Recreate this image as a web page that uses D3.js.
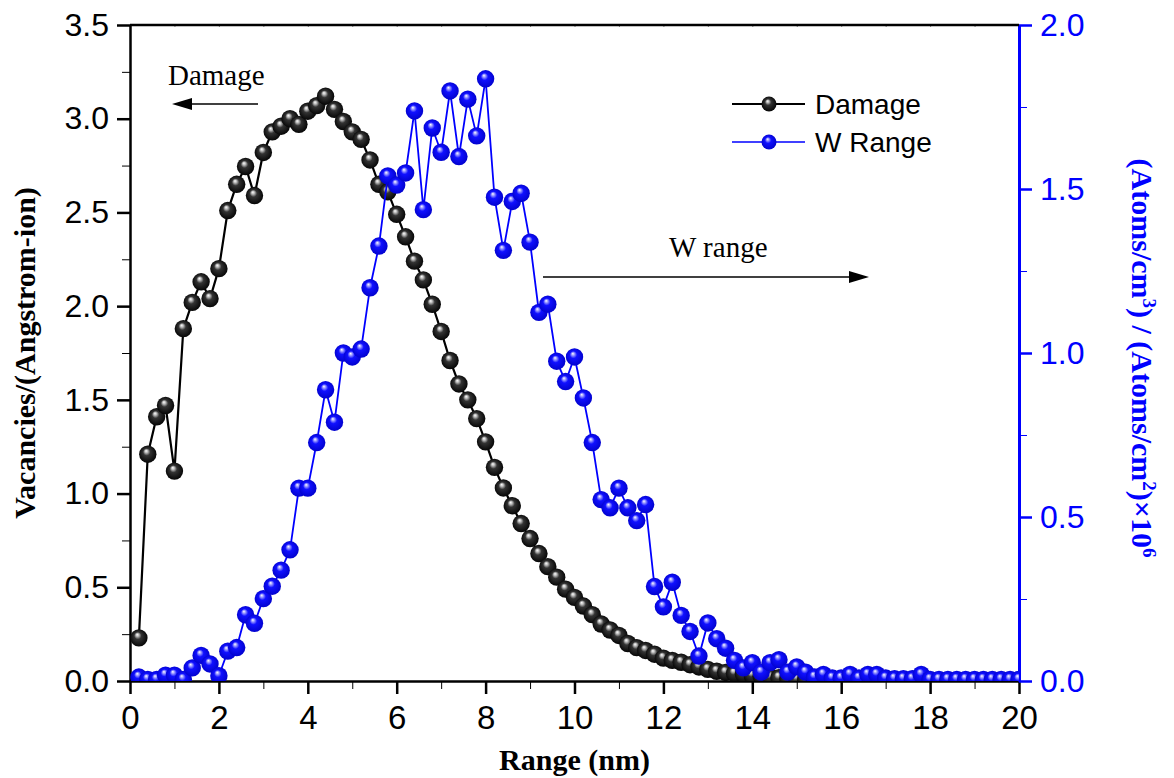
<!DOCTYPE html>
<html>
<head>
<meta charset="utf-8">
<script src="https://cdn.jsdelivr.net/npm/d3@7"></script>
<style>
  body { margin: 0; background: #fff; }
  svg text { font-family: "Liberation Sans", Arial, sans-serif; }
</style>
</head>
<body>
<div id="chart"></div>
<script>
// depth grid (nm)
const rangeNm = [0.2,0.4,0.6,0.8,1.0,1.2,1.4,1.6,1.8,2.0,2.2,2.4,2.6,2.8,3.0,3.2,3.4,3.6,3.8,4.0,
  4.2,4.4,4.6,4.8,5.0,5.2,5.4,5.6,5.8,6.0,6.2,6.4,6.6,6.8,7.0,7.2,7.4,7.6,7.8,8.0,
  8.2,8.4,8.6,8.8,9.0,9.2,9.4,9.6,9.8,10.0,10.2,10.4,10.6,10.8,11.0,11.2,11.4,11.6,11.8,12.0,
  12.2,12.4,12.6,12.8,13.0,13.2,13.4,13.6,13.8,14.0,14.2,14.4,14.6,14.8,15.0,15.2,15.4,15.6,15.8,16.0,
  16.2,16.4,16.6,16.8,17.0,17.2,17.4,17.6,17.8,18.0,18.2,18.4,18.6,18.8,19.0,19.2,19.4,19.6,19.8,20.0];

// vacancies / (Angstrom-ion), left axis
const damage = [0.23,1.21,1.41,1.47,1.12,1.88,2.02,2.13,2.04,2.20,2.51,2.65,2.745,2.59,2.82,2.93,2.96,3.00,2.97,3.04,
  3.07,3.12,3.05,2.985,2.93,2.89,2.78,2.65,2.61,2.49,2.37,2.24,2.14,2.01,1.865,1.71,1.585,1.50,1.40,1.276,
  1.14,1.03,0.935,0.84,0.76,0.68,0.61,0.554,0.49,0.446,0.40,0.354,0.304,0.272,0.243,0.20,0.178,0.163,0.143,0.122,
  0.11,0.10,0.087,0.075,0.062,0.052,0.046,0.041,0.037,0.03,0.026,0.022,0.018,0.014,0.011,0.009,0.007,0.006,0.005,0.004,
  0.003,0.003,0.002,0.002,0.002,0.001,0.001,0.001,0.001,0.001,0,0,0,0,0,0,0,0,0,0];

// W concentration, right axis
const wRange = [0.012,0.005,0.005,0.018,0.018,0.005,0.04,0.078,0.052,0.016,0.091,0.102,0.202,0.176,0.251,0.289,0.338,0.40,0.588,0.588,
  0.727,0.888,0.789,1.0,0.988,1.012,1.199,1.326,1.54,1.512,1.549,1.738,1.437,1.686,1.612,1.799,1.599,1.774,1.662,1.836,
  1.475,1.313,1.462,1.487,1.338,1.124,1.149,0.975,0.913,0.988,0.863,0.727,0.553,0.528,0.588,0.528,0.489,0.538,0.288,0.226,
  0.301,0.20,0.151,0.076,0.177,0.129,0.10,0.063,0.04,0.056,0.027,0.056,0.065,0.027,0.043,0.027,0.012,0.02,0.009,0.009,
  0.02,0.009,0.02,0.02,0.009,0.007,0.007,0.007,0.02,0.005,0.005,0.005,0.005,0.005,0.005,0.005,0.005,0.005,0.005,0.005];

const xTicks = [0,2,4,6,8,10,12,14,16,18,20];
const leftTicks = [0,0.5,1.0,1.5,2.0,2.5,3.0,3.5];
const rightTicks = [0,0.5,1.0,1.5,2.0];
const seriesNames = ["Damage", "W Range"];

const W = 1174, H = 778;
const margin = {top: 25, right: 155, bottom: 97, left: 130};
const iw = W - margin.left - margin.right,
      ih = H - margin.top - margin.bottom;

const svg = d3.select("#chart").append("svg")
    .attr("width", W).attr("height", H);

const defs = svg.append("defs");
defs.append("clipPath").attr("id", "plotclip")
  .append("rect").attr("width", iw).attr("height", ih);

// shaded balls like Origin's sphere symbol
function sphere(id, stops){
  const gr = defs.append("radialGradient").attr("id", id)
      .attr("cx", "50%").attr("cy", "50%").attr("r", "55%")
      .attr("fx", "40%").attr("fy", "30%");
  stops.forEach(s => gr.append("stop").attr("offset", s[0]).attr("stop-color", s[1]));
}
sphere("ballBlack", [["0%","#ffffff"],["16%","#bbbbbb"],["38%","#333333"],["100%","#000000"]]);
sphere("ballBlue", [["0%","#ffffff"],["16%","#9a9aff"],["38%","#1010ff"],["100%","#0000c8"]]);

const g = svg.append("g")
    .attr("transform", `translate(${margin.left},${margin.top})`);

const x = d3.scaleLinear().domain([0, 20]).range([0, iw]);
const yL = d3.scaleLinear().domain([0, 3.5]).range([ih, 0]);
const yR = d3.scaleLinear().domain([0, 2.0]).range([ih, 0]);

const fmt = d3.format(".1f");

// minor ticks
g.append("g").attr("transform", `translate(0,${ih})`)
  .call(d3.axisBottom(x).tickValues(d3.range(1, 20, 2)).tickSize(8).tickFormat(""))
  .call(a => a.select(".domain").remove());
g.append("g")
  .call(d3.axisLeft(yL).tickValues(d3.range(0.25, 3.5, 0.5)).tickSize(8).tickFormat(""))
  .call(a => a.select(".domain").remove());
g.append("g").attr("transform", `translate(${iw},0)`)
  .call(d3.axisRight(yR).tickValues(d3.range(0.25, 2.0, 0.5)).tickSize(8).tickFormat(""))
  .call(a => a.select(".domain").remove())
  .selectAll("line").attr("stroke", "#0000ff");
g.append("g")
  .call(d3.axisBottom(x).tickValues(d3.range(1, 20, 1)).tickSize(2).tickFormat(""))
  .call(a => a.select(".domain").remove())
  .selectAll("line").attr("stroke", "#888");

// bottom axis
const xAxis = g.append("g").attr("transform", `translate(0,${ih})`)
  .call(d3.axisBottom(x).tickValues(xTicks).tickSize(13).tickPadding(12).tickSizeOuter(0));
xAxis.selectAll("text").style("font-size", "33px").attr("fill", "#000");

// left axis
const yAxisL = g.append("g")
  .call(d3.axisLeft(yL).tickValues(leftTicks).tickSize(13).tickPadding(8).tickFormat(fmt).tickSizeOuter(0));
yAxisL.selectAll("text").style("font-size", "32px").attr("fill", "#000");

// right axis
const yAxisR = g.append("g").attr("transform", `translate(${iw},0)`)
  .call(d3.axisRight(yR).tickValues(rightTicks).tickSize(13).tickPadding(8).tickFormat(fmt).tickSizeOuter(0));
yAxisR.selectAll("text").style("font-size", "32px").attr("fill", "#0000ff");
yAxisR.selectAll("line, path").attr("stroke", "#0000ff");

[xAxis, yAxisL, yAxisR].forEach(a => a.selectAll("line, path").attr("stroke-width", 2.5));
yAxisR.select(".domain").attr("stroke-width", 3);

// top frame line
g.append("line").attr("x1", 0).attr("x2", iw).attr("y1", 0).attr("y2", 0)
  .attr("stroke", "#000").attr("stroke-width", 2.5);

// data
const dmg = rangeNm.map((r, i) => ({x: r, y: damage[i]}));
const wr = rangeNm.map((r, i) => ({x: r, y: wRange[i]}));

const plot = g.append("g").attr("clip-path", "url(#plotclip)");

plot.append("path").datum(dmg)
  .attr("fill", "none").attr("stroke", "#000").attr("stroke-width", 2.2)
  .attr("d", d3.line().x(d => x(d.x)).y(d => yL(d.y)));
plot.selectAll("circle.dmg").data(dmg).join("circle")
  .attr("class", "dmg")
  .attr("cx", d => x(d.x)).attr("cy", d => yL(d.y)).attr("r", 8.7)
  .attr("fill", "url(#ballBlack)");

plot.append("path").datum(wr)
  .attr("fill", "none").attr("stroke", "#0000ff").attr("stroke-width", 1.8)
  .attr("d", d3.line().x(d => x(d.x)).y(d => yR(d.y)));
plot.selectAll("circle.wr").data(wr).join("circle")
  .attr("class", "wr")
  .attr("cx", d => x(d.x)).attr("cy", d => yR(d.y)).attr("r", 8.7)
  .attr("fill", "url(#ballBlue)");

// axis titles
const serif = "'Liberation Serif', 'Times New Roman', serif";

svg.append("text")
  .attr("transform", `translate(${margin.left + iw / 2},${H - 8})`)
  .attr("text-anchor", "middle")
  .style("font-family", serif)
  .style("font-weight", "bold").style("font-size", "30px")
  .text("Range (nm)");

svg.append("text")
  .attr("transform", `translate(35,${margin.top + ih / 2}) rotate(-90)`)
  .attr("text-anchor", "middle")
  .style("font-family", serif)
  .style("font-weight", "bold").style("font-size", "30px")
  .text("Vacancies/(Angstrom-ion)");

const rt = svg.append("text")
  .attr("transform", `translate(1132,${margin.top + ih / 2 + 5}) rotate(90)`)
  .attr("text-anchor", "middle")
  .attr("fill", "#0000ff")
  .style("font-family", serif)
  .style("font-weight", "bold").style("font-size", "30px");
rt.append("tspan").text("(Atoms/cm");
rt.append("tspan").attr("dy", -11).style("font-size", "19px").text("3");
rt.append("tspan").attr("dy", 11).text(") / (Atoms/cm");
rt.append("tspan").attr("dy", -11).style("font-size", "19px").text("2");
rt.append("tspan").attr("dy", 11).text(")×10");
rt.append("tspan").attr("dy", -11).style("font-size", "19px").text("6");

// annotations
svg.append("text").attr("x", 168).attr("y", 85)
  .style("font-family", serif).style("font-size", "29px").text("Damage");
svg.append("path").attr("d", "M258,104 L190,104").attr("stroke", "#000").attr("stroke-width", 1.5);
svg.append("path").attr("d", "M172,104 L192,98 L192,110 Z").attr("fill", "#000");

svg.append("text").attr("x", 669).attr("y", 257)
  .style("font-family", serif).style("font-size", "29px").text("W range");
svg.append("path").attr("d", "M543,277 L852,277").attr("stroke", "#000").attr("stroke-width", 1.5);
svg.append("path").attr("d", "M869,277 L849,271 L849,283 Z").attr("fill", "#000");

// legend
const legend = svg.append("g").attr("transform", "translate(732,104)");
const legendItems = [
  {name: seriesNames[0], color: "#000", fill: "url(#ballBlack)", w: 2.2},
  {name: seriesNames[1], color: "#0000ff", fill: "url(#ballBlue)", w: 1.5}
];
legendItems.forEach((d, i) => {
  const row = legend.append("g").attr("transform", `translate(0,${i * 38})`);
  row.append("line").attr("x1", 0).attr("x2", 73).attr("stroke", d.color).attr("stroke-width", d.w);
  row.append("circle").attr("cx", 37).attr("r", 7.5).attr("fill", d.fill);
  row.append("text").attr("x", 83).attr("y", 10).style("font-size", "28px").text(d.name);
});
</script>
</body>
</html>
